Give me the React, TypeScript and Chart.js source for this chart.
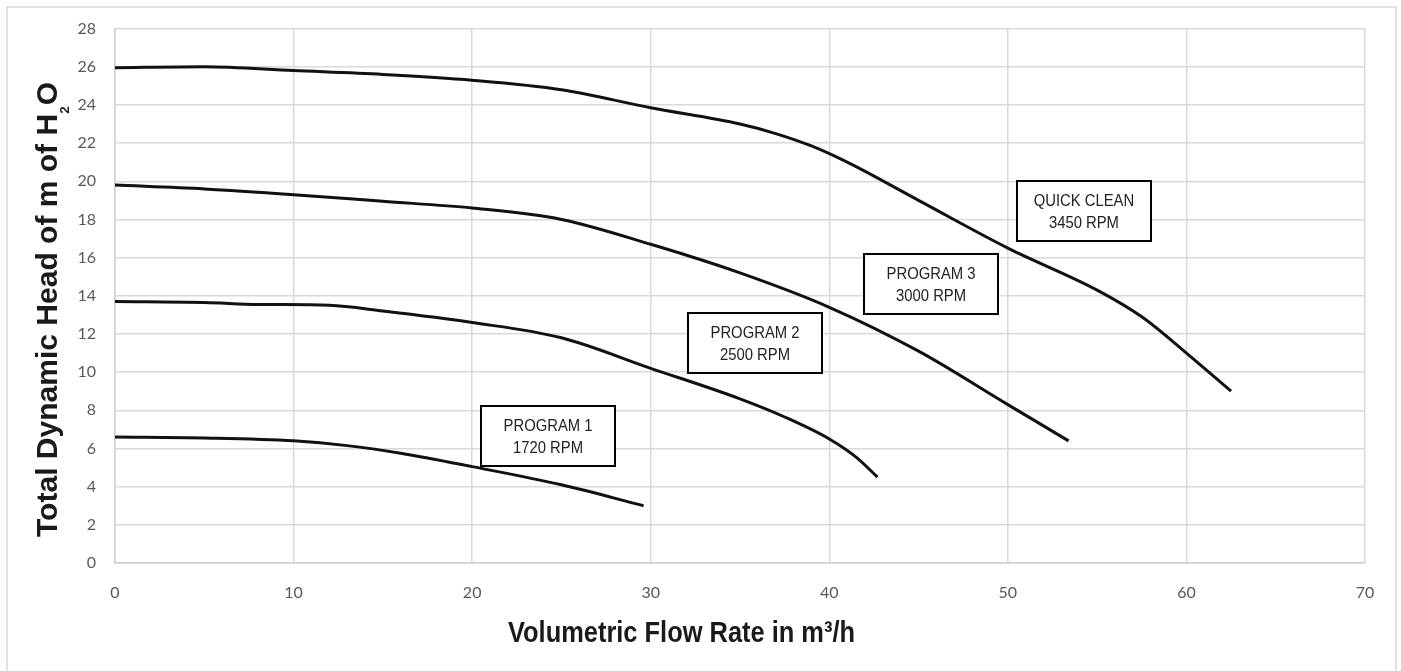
import React, { useEffect, useRef } from "react";
import { Chart, registerables } from "chart.js";

Chart.register(...registerables);

// ---- data ----
const program1Flow = [0, 5, 10, 13, 16, 20, 25, 29.6];
const program1Head = [6.6, 6.55, 6.4, 6.15, 5.75, 5.05, 4.1, 3.0];

const program2Flow = [0, 5, 8, 12, 15, 20, 25, 30, 35, 37.5, 40, 41.5, 42.7];
const program2Head = [13.7, 13.65, 13.55, 13.5, 13.2, 12.6, 11.8, 10.2, 8.6, 7.65, 6.5, 5.55, 4.5];

const program3Flow = [0, 5, 10, 15, 20, 25, 30, 35, 40, 45, 50, 53.4];
const program3Head = [19.8, 19.6, 19.3, 18.95, 18.6, 18.0, 16.7, 15.2, 13.4, 11.1, 8.3, 6.4];

const quickFlow = [0, 5, 10, 15, 20, 25, 30, 35, 37, 39, 41, 45, 50, 55, 57.5, 60, 62.5];
const quickHead = [25.95, 26.0, 25.8, 25.6, 25.3, 24.8, 23.85, 23.0, 22.5, 21.85, 21.0, 19.0, 16.5, 14.3, 12.9, 11.0, 9.0];

const boxLine1 = ["PROGRAM 1", "PROGRAM 2", "PROGRAM 3", "QUICK CLEAN"];
const boxLine2 = ["1720 RPM", "2500 RPM", "3000 RPM", "3450 RPM"];
const boxFlow = [24.25, 35.84, 45.7, 54.26];
const boxHead = [6.66, 11.54, 14.63, 18.46];

const xTitle = "Volumetric Flow Rate in m³/h";
const yTitleMain = "Total Dynamic Head of m of H";
const yTitleSub = "2";
const yTitleEnd = "O";

const xMin = 0, xMax = 70, xStep = 10;
const yMin = 0, yMax = 28, yStep = 2;

const toPoints = (xs: number[], ys: number[]) => xs.map((x, i) => ({ x, y: ys[i] }));

const overlayPlugin = {
  id: "overlay",
  afterDatasetsDraw(chart: any) {
    const ctx = chart.ctx as CanvasRenderingContext2D;
    const sx = chart.scales.x;
    const sy = chart.scales.y;
    ctx.save();
    // outer frame
    ctx.strokeStyle = "#d9d9d9";
    ctx.lineWidth = 1.5;
    ctx.beginPath();
    ctx.moveTo(7, 700);
    ctx.lineTo(7, 7);
    ctx.lineTo(1396, 7);
    ctx.lineTo(1396, 700);
    ctx.stroke();

    // annotation boxes
    ctx.font = '16px "Liberation Sans", Arial, sans-serif';
    const k = 89 / ctx.measureText("PROGRAM 1").width;
    for (let i = 0; i < boxLine1.length; i++) {
      const cx = sx.getPixelForValue(boxFlow[i]);
      const cy = sy.getPixelForValue(boxHead[i]);
      const w = 134, h = 60;
      ctx.fillStyle = "#ffffff";
      ctx.fillRect(cx - w / 2, cy - h / 2, w, h);
      ctx.strokeStyle = "#000000";
      ctx.lineWidth = 2;
      ctx.strokeRect(Math.round(cx - w / 2), Math.round(cy - h / 2), w, h);
      ctx.fillStyle = "#222222";
      ctx.textAlign = "center";
      ctx.textBaseline = "alphabetic";
      [boxLine1[i], boxLine2[i]].forEach((t, j) => {
        ctx.save();
        ctx.translate(cx, cy - 5 + j * 22);
        ctx.scale(k, 1);
        ctx.fillText(t, 0, 0);
        ctx.restore();
      });
    }

    // x title
    ctx.fillStyle = "#1a1a1a";
    ctx.font = 'bold 29px "Liberation Sans", Arial, sans-serif';
    ctx.textAlign = "left";
    ctx.textBaseline = "alphabetic";
    const xw = ctx.measureText(xTitle).width;
    const kx = 347 / xw;
    ctx.save();
    ctx.translate(681.5 - 347 / 2, 642);
    ctx.scale(kx, 1);
    ctx.fillText(xTitle, 0, 0);
    ctx.restore();

    // y title (rotated)
    ctx.font = 'bold 29px "Liberation Sans", Arial, sans-serif';
    const w1 = ctx.measureText(yTitleMain).width;
    const w3 = ctx.measureText(yTitleEnd).width;
    ctx.font = 'bold 13px "Liberation Sans", Arial, sans-serif';
    const w2 = ctx.measureText(yTitleSub).width + 1;
    const total = w1 + w2 + w3;
    const ky = 455 / total;
    ctx.save();
    ctx.translate(57, 309.5);
    ctx.rotate(-Math.PI / 2);
    ctx.scale(ky, 1);
    const start = -total / 2;
    ctx.font = 'bold 29px "Liberation Sans", Arial, sans-serif';
    ctx.fillText(yTitleMain, start, 0);
    ctx.font = 'bold 13px "Liberation Sans", Arial, sans-serif';
    ctx.fillText(yTitleSub, start + w1, 12);
    ctx.font = 'bold 29px "Liberation Sans", Arial, sans-serif';
    ctx.fillText(yTitleEnd, start + w1 + w2, 0);
    ctx.restore();

    ctx.restore();
  },
};

export default function App() {
  const ref = useRef<HTMLCanvasElement | null>(null);
  useEffect(() => {
    if (!ref.current) return;
    const lineStyle = {
      borderColor: "#111111",
      borderWidth: 3,
      pointRadius: 0,
      fill: false,
      cubicInterpolationMode: "monotone" as const,
    };
    const chart = new Chart(ref.current, {
      type: "line",
      data: {
        datasets: [
          { label: "PROGRAM 1", data: toPoints(program1Flow, program1Head), ...lineStyle },
          { label: "PROGRAM 2", data: toPoints(program2Flow, program2Head), ...lineStyle },
          { label: "PROGRAM 3", data: toPoints(program3Flow, program3Head), ...lineStyle },
          { label: "QUICK CLEAN", data: toPoints(quickFlow, quickHead), ...lineStyle },
        ],
      },
      options: {
        animation: false,
        responsive: false,
        devicePixelRatio: 1,
        layout: { padding: { left: 55, top: 28, right: 36, bottom: 58 } },
        plugins: { legend: { display: false }, tooltip: { enabled: false } },
        scales: {
          x: {
            type: "linear",
            min: xMin,
            max: xMax,
            ticks: {
              stepSize: xStep,
              color: "#595959",
              font: { family: "Lato, 'Open Sans', sans-serif", size: 16 },
              padding: 20,
            },
            grid: { color: "#d9d9d9", drawTicks: false, lineWidth: 1.5 },
            border: { color: "#cfcfcf", width: 1.5 },
            afterFit: (s: any) => { s.height = 50; },
          },
          y: {
            type: "linear",
            min: yMin,
            max: yMax,
            ticks: {
              stepSize: yStep,
              color: "#595959",
              font: { family: "Lato, 'Open Sans', sans-serif", size: 16 },
              padding: 19,
            },
            grid: { color: "#d9d9d9", drawTicks: false, lineWidth: 1.5 },
            border: { color: "#cfcfcf", width: 1.5 },
            afterFit: (s: any) => { s.width = 60; },
          },
        },
      },
      plugins: [overlayPlugin],
    });
    return () => chart.destroy();
  }, []);
  return (
    <div style={{ position: "fixed", left: 0, top: 0, width: 1401, height: 671, background: "#fff" }}>
      <canvas ref={ref} width={1401} height={671} style={{ width: 1401, height: 671, display: "block" }} />
    </div>
  );
}
